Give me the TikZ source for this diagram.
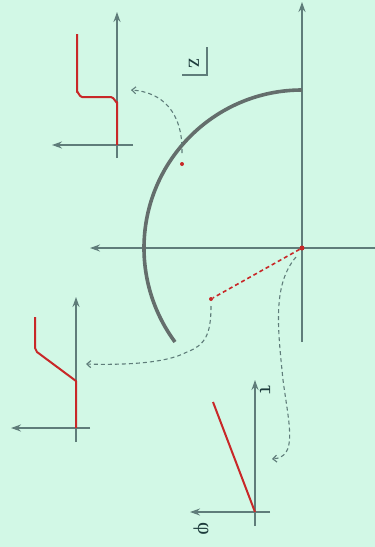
\documentclass[tikz,border=0pt]{standalone}
\usepackage{fontspec}
\newfontfamily\lblfont{Liberation Serif}
\usetikzlibrary{arrows.meta}
\definecolor{bgc}{RGB}{210,248,230}
\definecolor{axc}{RGB}{95,125,122}
\definecolor{arcc}{RGB}{100,110,108}
\definecolor{redc}{RGB}{200,40,40}
\definecolor{txtc}{RGB}{30,60,60}
\begin{document}
\begin{tikzpicture}[x=1pt,y=-1pt,
  axis/.style={draw=axc,line width=1.6pt,-{Stealth[length=10pt,width=7pt]}},
  redcurve/.style={draw=redc,line width=2pt,line join=round},
  guide/.style={draw=axc,line width=1.1pt,dashed,dash pattern=on 4pt off 3pt,-{Straight Barb[length=4pt,width=7pt]}},
  lbl/.style={text=txtc,font=\lblfont\fontsize{22}{22}\selectfont,rotate=-90,inner sep=0pt},
  dotc/.style={circle,fill=redc,inner sep=0pt,minimum size=4pt}]
\fill[bgc] (0,0) rectangle (375,547);
\useasboundingbox (0,0) rectangle (375,547);
% main axes
\coordinate (O) at (302,248);
\coordinate (vb) at (302,342);
\coordinate (vt) at (302,2);
\coordinate (hr) at (375,248);
\coordinate (hl) at (90,248);
\draw[axis] (vb) -- (vt);
\draw[axis] (hr) -- (hl);
% arc
\coordinate (atop) at (302,90);
\draw[arcc,line width=3.6pt] (atop) arc[start angle=-90,end angle=-216.5,radius=158];
% z label
\node[lbl] (z) at (194,63) {z};
\coordinate (zc1) at (207,47);
\coordinate (zc2) at (207,75);
\coordinate (zc3) at (182,75);
\draw[axc,line width=1.1pt] (zc1) -- (zc2) -- (zc3);
% red points
\node[dotc] (p1) at (182,164) {};
\node[dotc] (p2) at (211,299) {};
\node[dotc,minimum size=5pt] (po) at (O) {};
\draw[redc,line width=1.6pt,dashed,dash pattern=on 4pt off 3pt] (po) -- (p2);
% guides
\coordinate (g1s) at (182,153);
\coordinate (g1e) at (131,90);
\draw[guide] (g1s) .. controls (183,112) and (162,92) .. (g1e);
\coordinate (g2s) at (211,306);
\coordinate (g2e) at (86,364);
\coordinate (g2m) at (187,352);
\draw[guide] (g2s) .. controls (211,335) and (205,345) .. (g2m) .. controls (165,364) and (120,365) .. (g2e);
\coordinate (g3s) at (296,257);
\coordinate (g3m) at (283,380);
\coordinate (g3e) at (272,459);
\draw[guide] (g3s) .. controls (272,285) and (278,330) .. (g3m) .. controls (289,425) and (298,457) .. (g3e);
% inset 1
\coordinate (i1o) at (117,145);
\draw[axis] (117,158) -- (117,12);
\draw[axis] (133,145) -- (52,145);
\draw[redcurve] (i1o) -- (117,102) to[out=-90,in=0] (111,97) -- (82,97) to[out=180,in=90] (77,92) -- (77,34);
% inset 2
\coordinate (i2o) at (76,428);
\draw[axis] (76,442) -- (76,297);
\draw[axis] (90,428) -- (11,428);
\draw[redcurve] (i2o) -- (76,381) -- (37,352) -- (35,348) -- (35,317);
% inset 3
\coordinate (i3o) at (255,512);
\coordinate (i3e) at (213,402);
\draw[axis] (255,526) -- (255,380);
\draw[axis] (270,512) -- (190,512);
\draw[redcurve] (i3o) -- (i3e);
\node[lbl] (tau) at (265,390) {τ};
\node[lbl] (phi) at (201,529) {φ};
\end{tikzpicture}
\end{document}
